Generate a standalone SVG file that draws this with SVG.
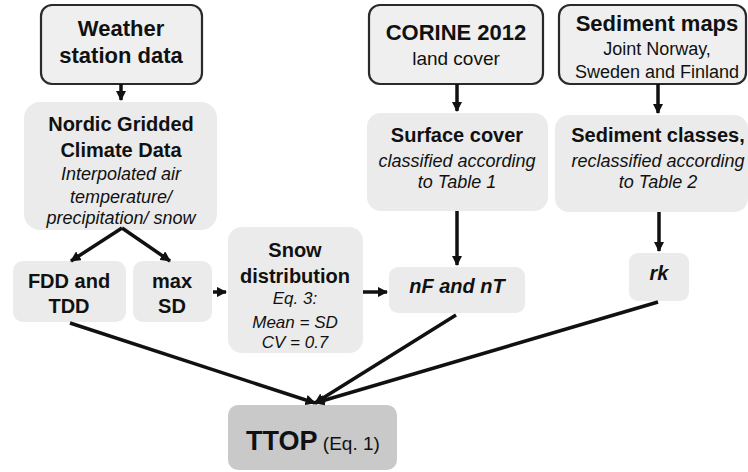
<svg xmlns="http://www.w3.org/2000/svg" width="748" height="472" viewBox="0 0 748 472">
<style>
text{font-family:"Liberation Sans",Arial,sans-serif;fill:#111;text-anchor:middle}
.b{font-weight:bold}
.i{font-style:italic}
.src{fill:#efefef;stroke:#2a2a2a;stroke-width:2.2}
.box{fill:#ebebeb}
.ttop{fill:#c9c9c9}
.ln{stroke:#111;stroke-width:3.5;fill:none}
</style>
<defs>
<marker id="ah" viewBox="0 0 10 10" refX="9" refY="5" markerWidth="3" markerHeight="3" orient="auto" markerUnits="strokeWidth">
<path d="M0,0L10,5L0,10z" fill="#111"/>
</marker>
</defs>
<g id="weather"><rect class="src" x="41" y="5" width="161" height="79" rx="11"/>
<text class="b" x="121" y="36" font-size="22">Weather</text>
<text class="b" x="121" y="63" font-size="22">station data</text></g>
<g id="corine"><rect class="src" x="369" y="5" width="174" height="79" rx="11"/>
<text class="b" x="456" y="40" font-size="22">CORINE 2012</text>
<text x="456" y="65" font-size="19">land cover</text></g>
<g id="sedmaps"><rect class="src" x="559" y="5" width="187" height="79" rx="11"/>
<text class="b" x="657" y="31" font-size="22">Sediment maps</text>
<text x="657" y="55" font-size="18">Joint Norway,</text>
<text x="657" y="78" font-size="18">Sweden and Finland</text></g>
<g id="nordic"><rect class="box" x="24" y="102" width="193" height="128" rx="16"/>
<text class="b" x="121" y="131" font-size="20">Nordic Gridded</text>
<text class="b" x="121" y="157" font-size="20">Climate Data</text>
<text class="i" x="121" y="180" font-size="18">Interpolated air</text>
<text class="i" x="121" y="203" font-size="18">temperature/</text>
<text class="i" x="121" y="224" font-size="18">precipitation/ snow</text></g>
<g id="surface"><rect class="box" x="367" y="113" width="181" height="98" rx="14"/>
<text class="b" x="457" y="142" font-size="20">Surface cover</text>
<text class="i" x="457" y="167" font-size="18">classified according</text>
<text class="i" x="457" y="188" font-size="18">to Table 1</text></g>
<g id="sedclasses"><rect class="box" x="555" y="115" width="193" height="97" rx="14"/>
<text class="b" x="658" y="142" font-size="20">Sediment classes,</text>
<text class="i" x="658" y="167" font-size="18">reclassified according</text>
<text class="i" x="658" y="188" font-size="18">to Table 2</text></g>
<g id="fdd"><rect class="box" x="13" y="261" width="113" height="61" rx="10"/>
<text class="b" x="69" y="288" font-size="20">FDD and</text>
<text class="b" x="69" y="313" font-size="20">TDD</text></g>
<g id="maxsd"><rect class="box" x="133" y="261" width="79" height="61" rx="10"/>
<text class="b" x="172" y="288" font-size="20">max</text>
<text class="b" x="172" y="313" font-size="20">SD</text></g>
<g id="snow"><rect class="box" x="228" y="227" width="135" height="126" rx="14"/>
<text class="b" x="295" y="257" font-size="20">Snow</text>
<text class="b" x="295" y="283" font-size="20">distribution</text>
<text class="i" x="295" y="304" font-size="17">Eq. 3:</text>
<text class="i" x="295" y="328" font-size="17">Mean = SD</text>
<text class="i" x="295" y="348" font-size="17">CV = 0.7</text></g>
<g id="nfnt"><rect class="box" x="389" y="267" width="136" height="46" rx="9"/>
<text class="b i" x="457" y="293" font-size="20">nF and nT</text></g>
<g id="rk"><rect class="box" x="629" y="253" width="60" height="48" rx="9"/>
<text class="b i" x="659" y="280" font-size="20">rk</text></g>
<g id="ttop"><rect class="ttop" x="228" y="405" width="169" height="65" rx="10"/>
<text x="313" y="450"><tspan class="b" font-size="27">TTOP</tspan><tspan font-size="19"> (Eq. 1)</tspan></text></g>
<g id="connectors">
<line class="ln" x1="121" y1="84" x2="121" y2="100" marker-end="url(#ah)"/>
<line class="ln" x1="457" y1="84" x2="457" y2="111" marker-end="url(#ah)"/>
<line class="ln" x1="658" y1="84" x2="658" y2="113" marker-end="url(#ah)"/>
<line class="ln" x1="122" y1="228" x2="71" y2="261" marker-end="url(#ah)"/>
<line class="ln" x1="122" y1="228" x2="170" y2="261" marker-end="url(#ah)"/>
<line class="ln" x1="213" y1="292" x2="226" y2="292" marker-end="url(#ah)"/>
<line class="ln" x1="363" y1="292" x2="387" y2="292" marker-end="url(#ah)"/>
<line class="ln" x1="457" y1="211" x2="457" y2="265" marker-end="url(#ah)"/>
<line class="ln" x1="659" y1="212" x2="659" y2="251" marker-end="url(#ah)"/>
<line class="ln" x1="70" y1="323" x2="315" y2="403" marker-end="url(#ah)"/>
<line class="ln" x1="456" y1="315" x2="315" y2="403" marker-end="url(#ah)"/>
<line class="ln" x1="658" y1="302" x2="315" y2="403" marker-end="url(#ah)"/>
</g>
</svg>
